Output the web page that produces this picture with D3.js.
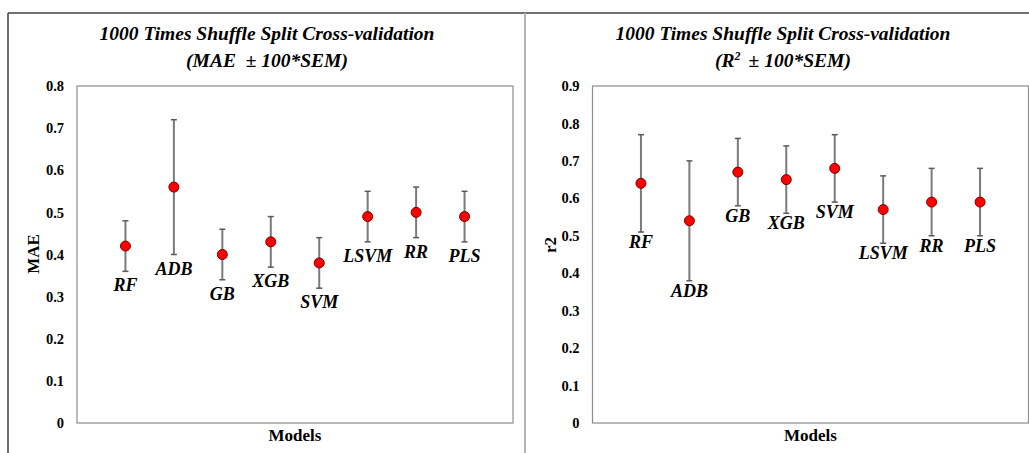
<!DOCTYPE html>
<html>
<head>
<meta charset="utf-8">
<script src="https://cdn.jsdelivr.net/npm/d3@7"></script>
<style>
  body { margin: 0; background: #fff; }
  svg { display: block; }
</style>
</head>
<body>
<div id="chart"></div>
<script>
// Data
var models = ["RF", "ADB", "GB", "XGB", "SVM", "LSVM", "RR", "PLS"];

var maeMean = [0.42, 0.56, 0.40, 0.43, 0.38, 0.49, 0.50, 0.49];
var maeErr  = [0.06, 0.16, 0.06, 0.06, 0.06, 0.06, 0.06, 0.06];
var maeTicks = [0, 0.1, 0.2, 0.3, 0.4, 0.5, 0.6, 0.7, 0.8];

var r2Mean = [0.64, 0.54, 0.67, 0.65, 0.68, 0.57, 0.59, 0.59];
var r2Err  = [0.13, 0.16, 0.09, 0.09, 0.09, 0.09, 0.09, 0.09];
var r2Ticks = [0, 0.1, 0.2, 0.3, 0.4, 0.5, 0.6, 0.7, 0.8, 0.9];

var svgWidth = 1029;
var svgHeight = 453;
var serif = "'Liberation Serif', 'Times New Roman', serif";

var svg = d3.select("#chart")
  .append("svg")
  .attr("width", svgWidth)
  .attr("height", svgHeight);

// outer frame lines
svg.append("line")
  .attr("x1", 8).attr("x2", svgWidth).attr("y1", 13).attr("y2", 13)
  .attr("stroke", "#404040").attr("stroke-width", 1.5);
svg.append("line")
  .attr("x1", 8).attr("x2", 8).attr("y1", 13).attr("y2", svgHeight)
  .attr("stroke", "#404040").attr("stroke-width", 1.5);
svg.append("line")
  .attr("x1", 525).attr("x2", 525).attr("y1", 13).attr("y2", svgHeight)
  .attr("stroke", "#b4b4b4").attr("stroke-width", 2);

function drawPanel(opt) {
  var left = opt.left, top = 86, width = 436, height = 337;

  var x = d3.scalePoint()
    .domain(models)
    .range([left, left + width])
    .padding(1);

  var y = d3.scaleLinear()
    .domain([0, opt.ticks[opt.ticks.length - 1]])
    .range([top + height, top]);

  // title
  svg.append("text")
    .attr("x", opt.titleX)
    .attr("y", 40)
    .attr("text-anchor", "middle")
    .style("font-family", serif)
    .style("font-weight", "bold")
    .style("font-style", "italic")
    .style("font-size", "19.5px")
    .text("1000 Times Shuffle Split Cross-validation");
  var sub = svg.append("text")
    .attr("x", opt.titleX)
    .attr("y", 67)
    .attr("text-anchor", "middle")
    .style("font-family", serif)
    .style("font-weight", "bold")
    .style("font-style", "italic")
    .style("font-size", "19.5px");
  opt.subtitle(sub);

  // plot box
  svg.append("rect")
    .attr("x", left).attr("y", top)
    .attr("width", width).attr("height", height)
    .attr("fill", "none")
    .attr("stroke", "#8c8c8c")
    .attr("stroke-width", 1.2);

  // y axis labels only
  var yAxis = svg.append("g")
    .attr("transform", `translate(${left}, 0)`)
    .call(d3.axisLeft(y).tickValues(opt.ticks).tickSize(0).tickPadding(13)
      .tickFormat(d => d === 0 ? "0" : d3.format(".1f")(d)));
  yAxis.select(".domain").remove();
  yAxis.selectAll("text")
    .style("font-family", serif)
    .style("font-weight", "bold")
    .style("font-size", "14.5px")
    .attr("fill", "#000");

  // axis titles
  svg.append("text")
    .attr("transform", `translate(${opt.yTitleX}, ${opt.yTitleY}) rotate(-90)`)
    .attr("text-anchor", "middle")
    .attr("dy", "0.35em")
    .style("font-family", serif)
    .style("font-weight", "bold")
    .style("font-size", "17px")
    .text(opt.yTitle);

  svg.append("text")
    .attr("x", left + width / 2)
    .attr("y", 441)
    .attr("text-anchor", "middle")
    .style("font-family", serif)
    .style("font-weight", "bold")
    .style("font-size", "17px")
    .text("Models");

  var rows = models.map((m, i) => ({ model: m, mean: opt.mean[i], err: opt.err[i] }));

  var g = svg.append("g");

  // error bars
  g.selectAll(".bar")
    .data(rows)
    .enter()
    .append("line")
    .attr("x1", d => x(d.model)).attr("x2", d => x(d.model))
    .attr("y1", d => y(d.mean - d.err)).attr("y2", d => y(d.mean + d.err))
    .attr("stroke", "#7a7a7a")
    .attr("stroke-width", 2);

  [-1, 1].forEach(function (s) {
    g.selectAll(null)
      .data(rows)
      .enter()
      .append("line")
      .attr("x1", d => x(d.model) - 3).attr("x2", d => x(d.model) + 3)
      .attr("y1", d => y(d.mean + s * d.err)).attr("y2", d => y(d.mean + s * d.err))
      .attr("stroke", "#5a5a5a")
      .attr("stroke-width", 1.5);
  });

  // points
  g.selectAll("circle")
    .data(rows)
    .enter()
    .append("circle")
    .attr("cx", d => x(d.model))
    .attr("cy", d => y(d.mean))
    .attr("r", 5)
    .attr("fill", "#ff0000")
    .attr("stroke", "#7a0000")
    .attr("stroke-width", 1);

  // model labels under each bar
  g.selectAll(".lbl")
    .data(rows)
    .enter()
    .append("text")
    .attr("x", d => x(d.model))
    .attr("y", d => y(d.mean - d.err) + opt.labelGap)
    .attr("text-anchor", "middle")
    .style("font-family", serif)
    .style("font-weight", "bold")
    .style("font-style", "italic")
    .style("font-size", "18px")
    .text(d => d.model);
}

drawPanel({
  left: 77,
  titleX: 267,
  mean: maeMean,
  err: maeErr,
  ticks: maeTicks,
  yTitle: "MAE",
  yTitleX: 33,
  yTitleY: 254,
  labelGap: 20,
  subtitle: function (t) {
    t.append("tspan").attr("xml:space", "preserve").text("(MAE  \u00b1 100*SEM)");
  }
});

drawPanel({
  left: 592.5,
  titleX: 783,
  mean: r2Mean,
  err: r2Err,
  ticks: r2Ticks,
  yTitle: "r2",
  yTitleX: 550,
  yTitleY: 245,
  labelGap: 16,
  subtitle: function (t) {
    t.append("tspan").text("(R");
    t.append("tspan").attr("baseline-shift", "super").style("font-size", "12px").text("2");
    t.append("tspan").attr("dx", 8).text("\u00b1 100*SEM)");
  }
});
</script>
</body>
</html>
